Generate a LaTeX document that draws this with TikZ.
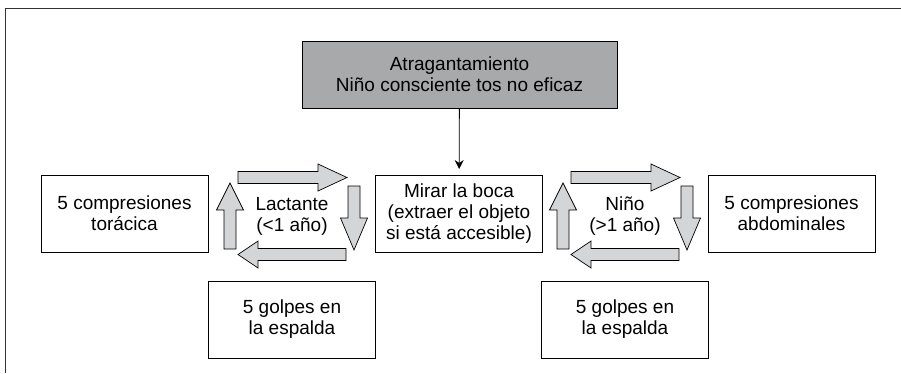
\documentclass[tikz,border=0pt]{standalone}
\usepackage{fontspec}
\setmainfont{Liberation Sans}
\usepackage{tikz}
\usetikzlibrary{arrows.meta, positioning}

\definecolor{darkbox}{HTML}{A8A9AB}
\definecolor{lightarr}{HTML}{D4D5D7}

\tikzset{
    box/.style={draw, line width=0.9pt, align=center, minimum width=167pt, minimum height=77pt,
        font=\fontsize{19}{21}\selectfont},
    headbox/.style={box, fill=darkbox, minimum width=315pt, minimum height=67pt},
    label/.style={align=center, font=\fontsize{19}{21}\selectfont},
    blockarr/.style={draw, line width=0.7pt, fill=lightarr, line join=miter}
}

% block arrow: start point, angle, length, head length
\newcommand{\blockarrow}[4]{%
    \draw[blockarr, shift={#1}, rotate=#2] (0,-6) -- (#3-#4,-6) -- (#3-#4,-13.5) -- (#3,0)
        -- (#3-#4,13.5) -- (#3-#4,6) -- (0,6) -- cycle;}

\begin{document}
\begin{tikzpicture}[x=1pt, y=-1pt]
    \useasboundingbox (0,0) rectangle (901,373);
    % frame
    \draw[line width=0.8pt, black!80] (5,373) -- (5,8) -- (901,8);

    % Boxes
    \node[headbox] (choke) at (459.5,74.5) {Atragantamiento\\Niño consciente tos no eficaz};
    \node[box] (mouth) at (459,214) {Mirar la boca\\(extraer el objeto\\si está accesible)};
    \node[box] (chest) at (124.5,213.5) {5 compresiones\\torácica};
    \node[box] (abdom) at (791.5,213.5) {5 compresiones\\abdominales};
    \node[box] (backinf) at (292,319.5) {5 golpes en\\la espalda};
    \node[box] (backchild) at (625,319.5) {5 golpes en\\la espalda};

    \draw[line width=0.8pt, -{Stealth[length=9pt, width=9pt]}, shorten >=6pt] (choke) -- (mouth);

    % Cycle labels
    \node[label] (infant) at (292,216) {Lactante\\(<1 año)};
    \node[label] (child) at (625,216) {Niño\\(>1 año)};

    % Cycle arrows
    \foreach \dx in {0,333} {
        \blockarrow{(238+\dx,177.5)}{0}{109}{29}
        \blockarrow{(354+\dx,186)}{-90}{64}{32}
        \blockarrow{(346+\dx,254.5)}{180}{108}{20}
        \blockarrow{(230+\dx,249)}{90}{66}{27}
    }
\end{tikzpicture}
\end{document}
